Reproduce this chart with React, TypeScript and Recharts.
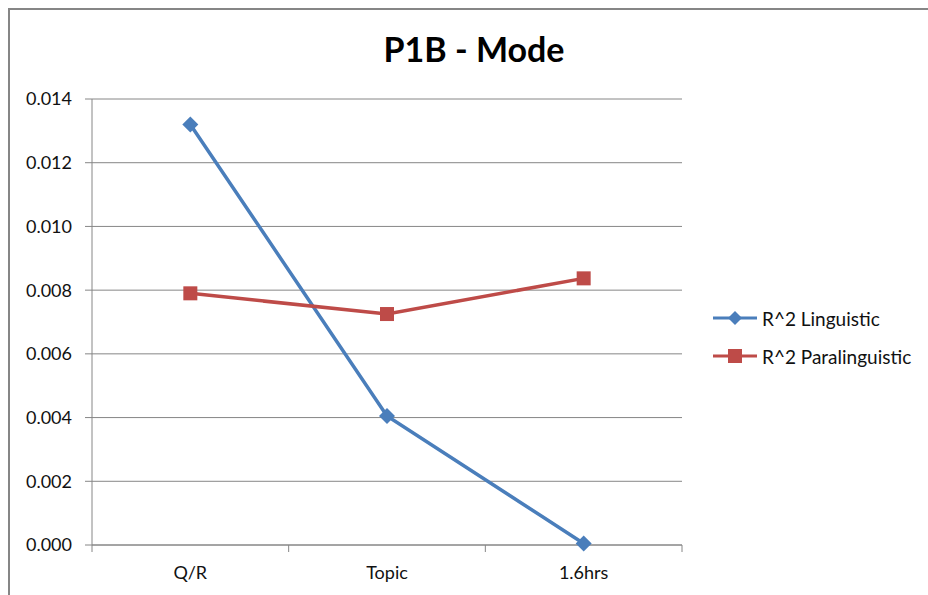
import { Legend, Line, LineChart, CartesianGrid, XAxis, YAxis } from "recharts";

const categories = ["Q/R", "Topic", "1.6hrs"];
const linguistic = [0.0132, 0.00405, 0.00005];
const paralinguistic = [0.0079, 0.00725, 0.00837];
const yTicks = [0, 0.002, 0.004, 0.006, 0.008, 0.01, 0.012, 0.014];

const BLUE = "#4A7EBB";
const RED = "#BE4B48";
const GRID = "#868686";
const FONT = "Lato, 'Open Sans', sans-serif";
const TICK_SIZE = 7;
const X_TICK_MARGIN = 14;

const rows = categories.map((name, i) => ({
  name,
  linguistic: linguistic[i],
  paralinguistic: paralinguistic[i],
}));

function Diamond(props: any) {
  const { cx, cy } = props;
  if (cx == null || cy == null) return null;
  const r = 8;
  return (
    <polygon
      points={`${cx},${cy - r} ${cx + r},${cy} ${cx},${cy + r} ${cx - r},${cy}`}
      fill={BLUE}
    />
  );
}

function Square(props: any) {
  const { cx, cy } = props;
  if (cx == null || cy == null) return null;
  const s = 7;
  return <rect x={cx - s} y={cy - s} width={s * 2} height={s * 2} fill={RED} />;
}

// category label at band centre, tick marks at the band edges (Excel style)
function CategoryTick(props: any) {
  const { x, y, payload, index, visibleTicksCount } = props;
  const half = payload?.offset ?? 0;
  const axisY = y - TICK_SIZE - X_TICK_MARGIN;
  const last = index === visibleTicksCount - 1;
  return (
    <g>
      <line x1={x - half} y1={axisY} x2={x - half} y2={axisY + TICK_SIZE} stroke={GRID} />
      {last ? (
        <line x1={x + half} y1={axisY} x2={x + half} y2={axisY + TICK_SIZE} stroke={GRID} />
      ) : null}
      <text
        x={x}
        y={y}
        dy="0.71em"
        textAnchor="middle"
        fontSize={18}
        fill="#111"
        fontFamily={FONT}
      >
        {payload.value}
      </text>
    </g>
  );
}

function LegendContent() {
  const items = [
    { label: "R^2 Linguistic", color: BLUE, shape: "diamond" },
    { label: "R^2 Paralinguistic", color: RED, shape: "square" },
  ];
  return (
    <div style={{ fontFamily: FONT, fontSize: 19, color: "#111" }}>
      {items.map((it) => (
        <div
          key={it.label}
          style={{ display: "flex", alignItems: "center", height: 38 }}
        >
          <svg width={49} height={20} style={{ marginRight: 0 }}>
            <line x1={0} y1={10} x2={44} y2={10} stroke={it.color} strokeWidth={3} />
            {it.shape === "diamond" ? (
              <polygon points="22,3 29,10 22,17 15,10" fill={it.color} />
            ) : (
              <rect x={15} y={3} width={14} height={14} fill={it.color} />
            )}
          </svg>
          <span>{it.label}</span>
        </div>
      ))}
    </div>
  );
}

export default function App() {
  return (
    <div
      style={{
        position: "fixed",
        left: 8,
        top: 8,
        width: 920,
        height: 587,
        borderLeft: `2px solid ${GRID}`,
        borderTop: `2px solid ${GRID}`,
        background: "#fff",
        fontFamily: FONT,
      }}
    >
      <LineChart
        width={920}
        height={585}
        data={rows}
        margin={{ top: 89, right: 248, left: 0, bottom: 0 }}
      >
        <text
          x={464}
          y={52}
          textAnchor="middle"
          fontSize={34}
          fontWeight={700}
          fill="#000"
          fontFamily={FONT}
        >
          P1B - Mode
        </text>
        <CartesianGrid vertical={false} stroke={GRID} strokeWidth={1} />
        <XAxis
          dataKey="name"
          scale="band"
          height={50}
          tickLine={false}
          tickSize={TICK_SIZE}
          tickMargin={X_TICK_MARGIN}
          interval={0}
          axisLine={{ stroke: GRID }}
          tick={<CategoryTick />}
        />
        <YAxis
          domain={[0, 0.014]}
          ticks={yTicks}
          width={82}
          tickSize={TICK_SIZE}
          tickMargin={13}
          interval={0}
          tickFormatter={(v: number) => v.toFixed(3)}
          tick={{ fontSize: 18, fill: "#111", fontFamily: FONT }}
          tickLine={{ stroke: GRID }}
          axisLine={{ stroke: GRID }}
        />
        <Legend
          layout="horizontal"
          verticalAlign="middle"
          align="center"
          wrapperStyle={{ left: 703, top: 289, width: 220 }}
          content={() => <LegendContent />}
        />
        <Line
          dataKey="linguistic"
          name="R^2 Linguistic"
          stroke={BLUE}
          strokeWidth={3.5}
          dot={<Diamond />}
          activeDot={false}
          isAnimationActive={false}
        />
        <Line
          dataKey="paralinguistic"
          name="R^2 Paralinguistic"
          stroke={RED}
          strokeWidth={3.5}
          dot={<Square />}
          activeDot={false}
          isAnimationActive={false}
        />
      </LineChart>
    </div>
  );
}
